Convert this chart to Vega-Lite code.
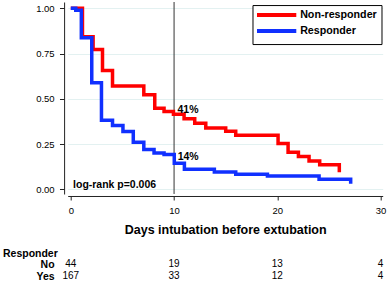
{
  "$schema": "https://vega.github.io/schema/vega-lite/v6.json",
  "background": "white",
  "padding": {"left": 1.7, "top": 1, "right": 0, "bottom": 0},
  "bounds": "flush",
  "spacing": 64.3,
  "config": {
    "view": {"stroke": null},
    "font": "Liberation Sans",
    "axis": {"domainColor": "#222222", "tickColor": "#222222", "labelColor": "#000000", "titleColor": "#000000", "labelFont": "Liberation Sans", "titleFont": "Liberation Sans", "domainWidth": 1, "tickWidth": 1},
    "text": {"font": "Liberation Sans", "color": "#000000"}
  },
  "datasets": {
    "surv": [
      {"group": "Non-responder", "day": 0, "surv": 1.0},
      {"group": "Non-responder", "day": 1.13, "surv": 0.843},
      {"group": "Non-responder", "day": 2.16, "surv": 0.773},
      {"group": "Non-responder", "day": 3.07, "surv": 0.657},
      {"group": "Non-responder", "day": 4.04, "surv": 0.571},
      {"group": "Non-responder", "day": 7.07, "surv": 0.523},
      {"group": "Non-responder", "day": 8.13, "surv": 0.449},
      {"group": "Non-responder", "day": 9.03, "surv": 0.43},
      {"group": "Non-responder", "day": 9.94, "surv": 0.415},
      {"group": "Non-responder", "day": 10.97, "surv": 0.39},
      {"group": "Non-responder", "day": 12.0, "surv": 0.365},
      {"group": "Non-responder", "day": 13.07, "surv": 0.34},
      {"group": "Non-responder", "day": 15.0, "surv": 0.322},
      {"group": "Non-responder", "day": 15.97, "surv": 0.3},
      {"group": "Non-responder", "day": 20.07, "surv": 0.254},
      {"group": "Non-responder", "day": 21.04, "surv": 0.206},
      {"group": "Non-responder", "day": 22.04, "surv": 0.182},
      {"group": "Non-responder", "day": 23.07, "surv": 0.157},
      {"group": "Non-responder", "day": 24.1, "surv": 0.136},
      {"group": "Non-responder", "day": 26.0, "surv": 0.095},
      {"group": "Responder", "day": 0, "surv": 1.0},
      {"group": "Responder", "day": 0.48, "surv": 0.989},
      {"group": "Responder", "day": 1.02, "surv": 0.838},
      {"group": "Responder", "day": 2.03, "surv": 0.589},
      {"group": "Responder", "day": 2.97, "surv": 0.382},
      {"group": "Responder", "day": 4.04, "surv": 0.353},
      {"group": "Responder", "day": 5.05, "surv": 0.32},
      {"group": "Responder", "day": 6.05, "surv": 0.261},
      {"group": "Responder", "day": 7.07, "surv": 0.221},
      {"group": "Responder", "day": 8.06, "surv": 0.202},
      {"group": "Responder", "day": 9.03, "surv": 0.193},
      {"group": "Responder", "day": 10.02, "surv": 0.145},
      {"group": "Responder", "day": 11.0, "surv": 0.112},
      {"group": "Responder", "day": 13.9, "surv": 0.097},
      {"group": "Responder", "day": 15.97, "surv": 0.084},
      {"group": "Responder", "day": 19.04, "surv": 0.074},
      {"group": "Responder", "day": 24.04, "surv": 0.056},
      {"group": "Responder", "day": 27.1, "surv": 0.032}
    ],
    "notes": [
      {"day": 10.33, "surv": 0.439, "label": "41%"},
      {"day": 10.35, "surv": 0.178, "label": "14%"},
      {"day": 0.22, "surv": 0.026, "label": "log-rank p=0.006"}
    ],
    "risk": [
      {"row": "No", "day": 0, "n": 44},
      {"row": "No", "day": 10, "n": 19},
      {"row": "No", "day": 20, "n": 13},
      {"row": "No", "day": 30, "n": 4},
      {"row": "Yes", "day": 0, "n": 167},
      {"row": "Yes", "day": 10, "n": 33},
      {"row": "Yes", "day": 20, "n": 12},
      {"row": "Yes", "day": 30, "n": 4}
    ]
  },
  "vconcat": [
    {
      "width": 315,
      "height": 192,
      "layer": [
        {
          "data": {"values": [{"day": 10}]},
          "mark": {"type": "rule", "color": "#333333", "strokeWidth": 1},
          "encoding": {
            "x": {"field": "day", "type": "quantitative", "scale": {"domain": [-0.3, 30.2], "nice": false, "zero": false},
              "axis": {"values": [0, 10, 20, 30], "title": "Days intubation before extubation", "titleFontSize": 12.5, "titleFontWeight": "bold", "titlePadding": 8, "offset": 2, "tickSize": 4, "labelFontSize": 9.5, "labelPadding": 6, "grid": false}}
          }
        },
        {
          "data": {"name": "surv"},
          "mark": {"type": "line", "interpolate": "step-after", "strokeWidth": 3.5},
          "encoding": {
            "x": {"field": "day", "type": "quantitative"},
            "y": {"field": "surv", "type": "quantitative", "scale": {"domain": [-0.025, 1.035], "nice": false, "zero": false},
              "axis": {"values": [0, 0.25, 0.5, 0.75, 1], "format": ".2f", "title": null, "grid": true, "gridColor": "#e3f1f1", "gridWidth": 1, "offset": 3.6, "tickSize": 4.6, "labelPadding": 5.4, "labelFontSize": 9.5}},
            "color": {"field": "group", "type": "nominal",
              "scale": {"domain": ["Non-responder", "Responder"], "range": ["#ff0000", "#1030ff"]},
              "legend": {"orient": "none", "legendX": 184.8, "legendY": 3.05, "direction": "vertical", "title": null,
                "symbolType": "M-5.614,0H5.614", "symbolSize": 49, "symbolStrokeWidth": 4, "rowPadding": -1, "padding": 4.5,
                "strokeColor": "#000000", "fillColor": "#ffffff", "labelFontSize": 10.7, "labelFontWeight": "bold", "labelFont": "Liberation Sans", "labelColor": "#000000",
                "symbolOffset": 14.15, "labelOffset": 18, "cornerRadius": 0}}
          }
        },
        {
          "data": {"name": "notes"},
          "mark": {"type": "text", "align": "left", "baseline": "middle", "fontWeight": "bold", "fontSize": 10.5},
          "encoding": {
            "x": {"field": "day", "type": "quantitative"},
            "y": {"field": "surv", "type": "quantitative"},
            "text": {"field": "label"}
          }
        }
      ]
    },
    {
      "width": 315,
      "height": 24,
      "data": {"name": "risk"},
      "mark": {"type": "text", "align": "center", "baseline": "middle", "fontSize": 10},
      "encoding": {
        "x": {"field": "day", "type": "quantitative", "scale": {"domain": [-0.3, 30.2], "nice": false, "zero": false}, "axis": null},
        "y": {"field": "row", "type": "nominal", "scale": {"domain": ["No", "Yes"], "type": "point", "padding": 0.5},
          "axis": {"domain": false, "ticks": false, "grid": false, "labelFontWeight": "bold", "labelFontSize": 10.5, "labelPadding": 13.6,
            "title": "Responder", "titleAngle": 0, "titleAlign": "left", "titleBaseline": "alphabetic", "titleX": -65.2, "titleY": -1.5, "titleFontWeight": "bold", "titleFontSize": 10.5}},
        "text": {"field": "n", "type": "quantitative"}
      }
    }
  ]
}
